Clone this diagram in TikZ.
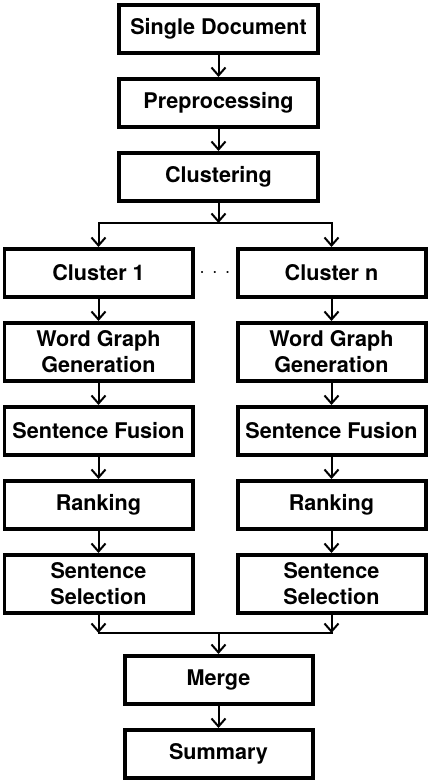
\documentclass[tikz,border=0pt]{standalone}
\usepackage{fontspec}
\setmainfont{TeX Gyre Heros}
\usetikzlibrary{positioning, arrows.meta}

\begin{document}
\begin{tikzpicture}[
  stepbox/.style = {shape=rectangle, draw, line width=2pt, align=center,
    minimum height=24pt, inner sep=2pt,
    font=\bfseries\fontsize{10.8}{13}\selectfont},
  topbox/.style = {stepbox, minimum width=99.5pt},
  colbox/.style = {stepbox, minimum width=94pt},
  twobox/.style = {colbox, minimum height=29pt},
  line/.style = {draw, line width=1pt, -{Straight Barb[length=4pt, width=7pt]}},
  node distance=11pt
  ]
  \useasboundingbox (0,0) rectangle (216pt,-392pt);
  % common steps
  \node[topbox] (doc) at (109.25pt,-14.5pt) {Single Document};
  \node[topbox, below=of doc] (prep) {Preprocessing};
  \node[topbox, below=of prep] (clust) {Clustering};
  % one column per cluster
  \node[colbox, below=22pt of clust, xshift=-60pt] (c1) {Cluster 1};
  \node[colbox, right=20.5pt of c1] (cn) {Cluster n};
  \path (c1) -- node (dots) {${\cdot}\hspace{3.6pt}{\cdot}\hspace{3.6pt}{\cdot}$} (cn);
  \foreach \c in {1,n} {
    \node[twobox, below=of c\c] (wg\c) {Word Graph\\Generation};
    \node[colbox, below=of wg\c] (sf\c) {Sentence Fusion};
    \node[colbox, below=of sf\c] (rk\c) {Ranking};
    \node[twobox, below=of rk\c] (ss\c) {Sentence\\Selection};
    \path[line] (c\c) -- (wg\c);
    \path[line] (wg\c) -- (sf\c);
    \path[line] (sf\c) -- (rk\c);
    \path[line] (rk\c) -- (ss\c);
  }
  % merging
  \coordinate[below=10pt of clust] (split);
  \coordinate[below=9pt of ss1] (join1);
  \coordinate (join) at (join1 -| clust);
  \node[colbox, below=10.5pt of join] (merge) {Merge};
  \node[colbox, below=of merge] (summary) {Summary};

  \path[line] (doc) -- (prep);
  \path[line] (prep) -- (clust);
  \path[line] (clust) -- (split);
  \path[line] (split) -| (c1);
  \path[line] (split) -| (cn);
  \path[line] (ss1) -- (ss1 |- join);
  \path[line] (ssn) -- (ssn |- join);
  \draw[line width=1pt, line cap=rect] (ss1 |- join) -- (ssn |- join);
  \path[line] (join) -- (merge);
  \path[line] (merge) -- (summary);
\end{tikzpicture}
\end{document}
